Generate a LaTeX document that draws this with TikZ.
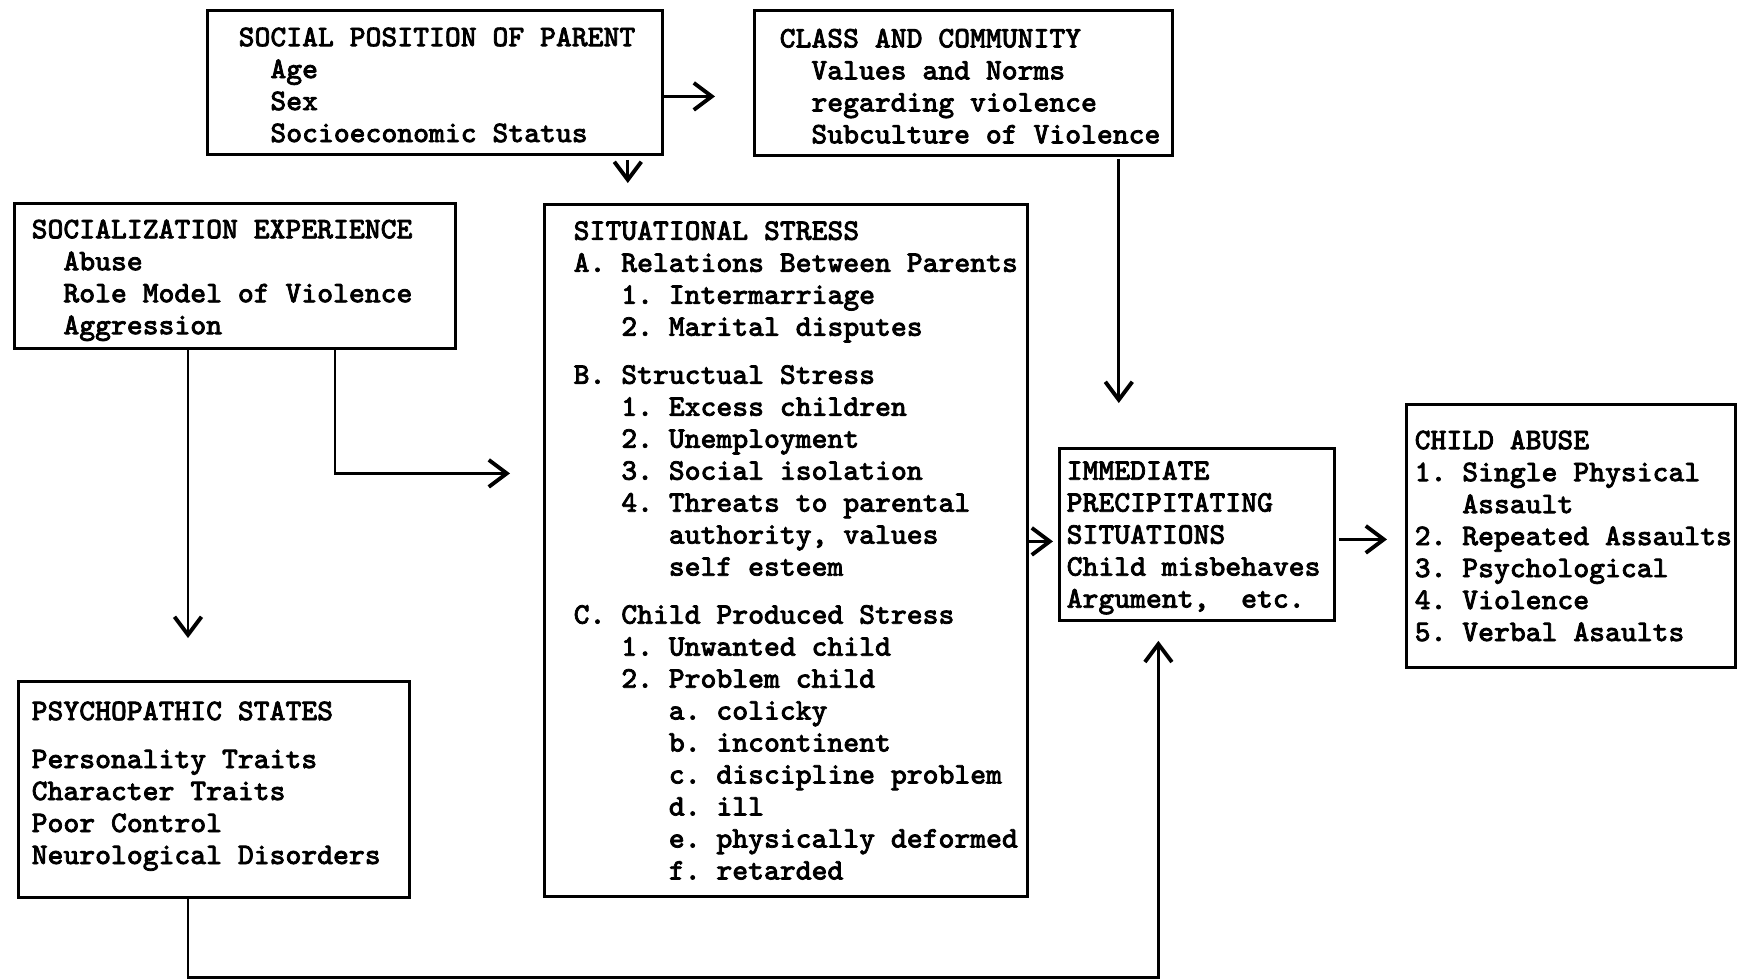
\documentclass[tikz,border=0pt]{standalone}
\usepackage{fontspec}
\newfontfamily\boxfont{Latin Modern Mono}[FakeBold=2.5]
\usepackage{tikz}
\usetikzlibrary{arrows.meta,positioning}
\newcommand{\ind}[1]{\hspace*{#1\fontdimen2\font}}

\begin{document}
\begin{tikzpicture}[scale=1.0,
  box/.style={draw,line width=0.8pt,anchor=north west,inner sep=0pt},
  txt/.style={inner sep=0pt,align=left,font=\boxfont\bfseries\frenchspacing\fontsize{8.5}{9.1}\selectfont},
  arr/.style={line width=0.8pt,-{Straight Barb[length=1.8mm,width=2.7mm,line width=1.1pt]}}]
  \useasboundingbox (0,0) rectangle (17.37,-9.78);
  % the boxes
  \node[box,minimum width=4.55cm,minimum height=1.44cm] (social) at (2.06,-0.09) {};
  \node[box,minimum width=4.18cm,minimum height=1.45cm] (class) at (7.53,-0.09) {};
  \node[box,minimum width=4.41cm,minimum height=1.45cm] (soc) at (0.13,-2.02) {};
  \node[box,minimum width=4.83cm,minimum height=6.92cm] (sit) at (5.43,-2.03) {};
  \node[box,minimum width=2.75cm,minimum height=1.72cm] (immediate) at (10.58,-4.47) {};
  \node[box,minimum width=3.29cm,minimum height=2.63cm] (ca) at (14.05,-4.03) {};
  \node[box,minimum width=3.91cm,minimum height=2.16cm] (psych) at (0.17,-6.80) {};
  % the texts
  \node[txt,right=0.32cm of social.west,yshift=-0.025cm] (socialtxt) {SOCIAL POSITION OF PARENT\\
    \ind{2}Age\\ \ind{2}Sex\\ \ind{2}Socioeconomic Status};
  \node[txt,right=0.26cm of class.west,yshift=-0.033cm] (classtxt) {CLASS AND COMMUNITY\\
    \ind{2}Values and Norms\\ \ind{2}regarding violence\\ \ind{2}Subculture of Violence};
  \node[txt,right=0.18cm of soc.west,yshift=-0.044cm] (soctxt) {SOCIALIZATION EXPERIENCE\\
    \ind{2}Abuse\\ \ind{2}Role Model of Violence\\ \ind{2}Aggression};
  \node[txt,right=0.30cm of sit.west] (sittxt) {SITUATIONAL STRESS\\
    A. Relations Between Parents\\
    \ind{3}1. Intermarriage\\
    \ind{3}2. Marital disputes\\[0.16cm]
    B. Structual Stress\\
    \ind{3}1. Excess children\\
    \ind{3}2. Unemployment\\
    \ind{3}3. Social isolation\\
    \ind{3}4. Threats to parental\\
    \ind{6}authority, values\\
    \ind{6}self esteem\\[0.16cm]
    C. Child Produced Stress\\
    \ind{3}1. Unwanted child\\
    \ind{3}2. Problem child\\
    \ind{6}a. colicky\\
    \ind{6}b. incontinent\\
    \ind{6}c. discipline problem\\
    \ind{6}d. ill\\
    \ind{6}e. physically deformed\\
    \ind{6}f. retarded};
  \node[txt,right=0.08cm of immediate.west,yshift=-0.033cm] (immtxt) {IMMEDIATE\\ PRECIPITATING\\
    SITUATIONS\\ Child misbehaves\\ Argument,\ind{2}etc.};
  \node[txt,right=0.09cm of ca.west] (catxt) {CHILD ABUSE\\ 1. Single Physical\\
    \ind{3}Assault\\ 2. Repeated Assaults\\ 3. Psychological\\ 4. Violence\\
    5. Verbal Asaults};
  \node[txt,right=0.14cm of psych.west,yshift=0.033cm] (psychtxt) {PSYCHOPATHIC STATES\\[0.16cm]
    Personality Traits\\ Character Traits\\ Poor Control\\ Neurological Disorders};
  % connectors
  \coordinate (socialright) at ([yshift=-0.14cm]social.east);
  \draw[arr,shorten >=0.38cm] (socialright) -- (socialright -| class.west);
  \coordinate (socialout) at ([xshift=-0.36cm]social.south east);
  \draw[arr,shorten <=0.04cm,shorten >=0.2cm] (socialout) -- (socialout |- sit.north);
  \coordinate (classout) at ([xshift=-0.55cm]class.south east);
  \draw[arr,shorten <=0.02cm,shorten >=0.44cm] (classout) -- (classout |- immediate.north);
  \coordinate (socdown) at ([xshift=1.75cm]soc.south west);
  \draw[arr,shorten >=0.42cm] (socdown) -- (socdown |- psych.north);
  \coordinate (socright) at ([xshift=3.22cm]soc.south west);
  \coordinate (sitin) at ([yshift=0.77cm]sit.west);
  \draw[arr,shorten >=0.33cm] (socright) |- (sitin);
  \coordinate (immleft) at ([yshift=-0.07cm]immediate.west);
  \draw[arr,shorten >=0.05cm] (immleft -| sit.east) -- (immleft);
  \coordinate (immright) at ([yshift=-0.05cm]immediate.east);
  \draw[arr,shorten <=0.03cm,shorten >=0.18cm] (immright) -- (immright -| ca.west);
  \coordinate (psychout) at ([xshift=1.71cm]psych.south west);
  \coordinate (immin) at ([xshift=-0.385cm]immediate.south);
  \draw[arr,shorten >=0.19cm] (psychout) -- ++(0,-0.79) -| (immin);
\end{tikzpicture}
\end{document}
